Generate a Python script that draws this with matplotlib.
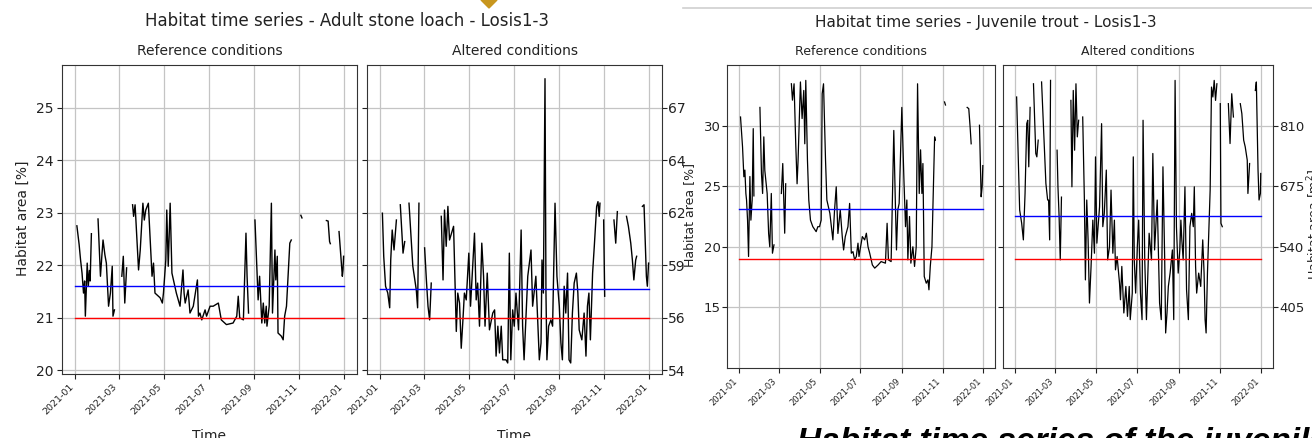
import numpy as np
import matplotlib
matplotlib.use('Agg')
import matplotlib.pyplot as plt
import matplotlib.dates as mdates
from matplotlib.lines import Line2D
from matplotlib.patches import Polygon

W, H = 1312, 438
nan = np.nan

# ---------------- data (day of year 2021, habitat area %) ----------------
ref1_day = [2, 5, 7, 9, 11, 12.5, 13.5, 16, 17.5, 19, 20, 21.7, 25,
            30.7, 34, 36, 37.5, 40, 42, 45, 47.5, 50, 51, 53, 58,
            63, 65, 67, 69.5, 73,
            77.6, 79, 81, 85.7, 88, 91.6, 93.5, 95.5, 99, 104, 106, 108, 115, 118, 119.5,
            122.7, 124, 126, 128.6, 131, 137, 142, 146, 147.5, 149, 153, 155.5, 160,
            165.6, 167, 169, 171.5, 176, 178, 182.8, 187, 194, 198, 205, 214, 219, 221,
            223, 228, 231.5, 233, 235, 239,
            243.7, 248, 250, 253, 255, 257, 259, 260, 263, 266, 267.5, 270.8, 272, 274,
            275, 279.5, 282, 284, 286.5, 291, 293, 300,
            306, 307.5, 320,
            340.7, 343, 345, 346, 350,
            357.8, 362.3, 363.2, 364]
ref1_val = [22.75, 22.4, 22.1, 21.85, 21.47, 21.7, 21.03, 22.04, 21.6, 21.9, 21.7, 22.6, nan,
            22.88, 21.79, 22.2, 22.48, 22.2, 22.04, 21.22, 21.47, 21.98, 21.03, 21.15, nan,
            21.79, 22.17, 21.28, 21.95, nan,
            23.15, 22.93, 23.15, 21.91, 22.29, 23.18, 22.86, 23.05, 23.18, 21.79, 22.04, 21.47, 21.38, 21.28, 21.47,
            22.1, 23.05, 21.98, 23.18, 21.85, 21.47, 21.22, 21.91, 21.47, 21.28, 21.53, 21.09, 21.22,
            21.72, 21.03, 21.09, 20.96, 21.15, 21.03, 21.22, 21.22, 21.28, 20.96, 20.87, 20.9, 21.03, 21.41,
            21.0, 20.96, 22.61, 21.79, 21.09, nan,
            22.86, 21.34, 21.79, 20.9, 21.28, 20.9, 21.22, 20.84, 21.22, 23.18, 21.09, 22.29, 21.72, 22.17,
            20.71, 20.65, 20.58, 21.03, 21.22, 22.42, 22.48, nan,
            22.95, 22.9, nan,
            22.85, 22.84, 22.45, 22.41, nan,
            22.64, 21.79, 21.91, 22.17]

alt1_day = [2.7, 4.5, 7, 10, 12.6, 14, 16, 18.5, 21.7, 24,
            27, 30.7, 33, 36,
            38.8, 44, 48.7, 50.5, 52.3, 56,
            60, 62.4, 64.6, 66.8, 69, 75,
            82.6, 85, 87, 89.3, 91.6, 93.8,
            99.3, 103, 105, 107.4, 109.7, 112, 114, 116.5, 120, 122.3, 127.7, 130, 132, 134.5,
            137.6, 140, 142, 145, 148, 152.5, 155, 157, 159.4, 161.6, 164, 166, 170.5, 172.8,
            175, 177, 179.5, 181.7, 184, 187.5, 191, 193, 195, 198, 200, 204.4, 206.6, 211,
            215.7, 218, 219.3, 221.2, 223.4, 224.7, 226, 228.3, 231.4, 233.7, 237, 239.6,
            242.8, 245, 247, 249.4, 251.6, 254, 256, 258.3, 260.6, 263, 266, 268, 269.8,
            273.4, 276.5, 279, 281, 283, 285, 288, 290.3, 293.5, 295.3, 297, 298, 300,
            303, 304.4, 310,
            317, 319.4, 321.6, 328,
            334, 336.6, 339.8, 342, 344, 346.5, 347.8, 351,
            355.6, 357.8, 361, 362.3, 364]
alt1_val = [22.99, 22.17, 21.6, 21.47, 21.19, 22.1, 22.67, 22.29, 22.86, nan,
            23.15, 22.23, 22.45, nan,
            23.18, 21.98, 21.53, 21.19, 23.18, nan,
            22.33, 21.72, 21.22, 20.96, 21.66, nan,
            22.93, 21.72, 23.05, 22.36, 23.12, 22.48,
            22.74, 20.74, 21.47, 21.28, 20.42, 20.96, 21.47, 21.34, 22.23, 21.22, 22.61, 21.34, 21.66, 20.84,
            22.42, 21.79, 20.84, 21.85, 20.77, 21.09, 21.15, 20.27, 20.84, 20.33, 20.84, 20.2, 20.2, 20.14,
            22.23, 20.2, 21.15, 20.84, 21.47, 20.77, 22.67, 20.84, 20.2, 21.15, 21.79, 22.29, 21.22, 21.79,
            20.2, 20.52, 22.1, 21.47, 25.55, 21.47, 20.2, 20.84, 20.96, 20.84, 23.18, 21.79,
            21.22, 20.52, 20.2, 21.6, 21.09, 21.85, 20.2, 20.14, 21.09, 21.66, 21.85, 21.47, 20.77,
            20.58, 21.09, 20.27, 21.22, 21.47, 20.58, 21.85, 22.36, 23.12, 23.21, 22.93, 23.18, nan,
            22.86, 21.41, nan,
            22.86, 22.42, 23.02, nan,
            22.93, 22.74, 22.42, 22.1, 21.72, 22.1, 22.17, nan,
            23.12, 23.15, 21.79, 21.6, 22.04]

ref2_day = [2, 5, 7, 8.5, 10, 11, 12.5, 14, 16, 17.5, 19.4, 21, 22, 26,
            31, 33.3, 35, 36.8, 38.3, 41.8, 44, 45.7, 48, 49.7, 52, 57,
            63, 65.1, 68, 69.5, 73,
            78, 79.6, 82, 84.5, 86.5, 88, 91.5, 94, 96.5, 98, 99.5, 102, 104, 106.5, 110,
            115, 117.5, 120, 122.5, 124, 126, 129, 131, 135.5, 140, 142.5, 145, 147.5, 151,
            154, 156, 158.5, 162.5, 165, 167.5, 170, 172.5, 175, 177.5, 179, 181, 184, 187.5,
            190, 192.5, 195, 199, 202.5, 207.5, 212, 218.5, 221, 223, 227, 231, 233, 235,
            237, 239, 243, 246, 248.5, 250.5, 252, 254.5, 256.5, 259.5, 262, 264.5, 266.5,
            269, 271, 273, 274.5, 276.5, 279.5, 282, 283.5, 285.5, 288, 292, 293, 300,
            306.8, 308.2, 320,
            340.6, 343, 345, 346.6, 352,
            359, 361.5, 363, 364]
ref2_val = [30.71, 28.25, 25.78, 26.33, 24.4, 23.86, 22.2, 19.2, 25.8, 22.2, 23.86, 29.75, 24.2, nan,
            31.5, 26.05, 24.4, 29.07, 26.3, 24.4, 21.1, 20.0, 24.4, 19.47, 20.16, nan,
            24.4, 26.87, 21.12, 25.2, nan,
            33.45, 32.1, 33.45, 28.5, 25.2, 27.15, 33.6, 30.58, 32.9, 28.5, 33.73, 27.15, 23.86, 22.2, 21.66,
            21.25, 21.66, 21.66, 22.2, 32.63, 33.45, 27.15, 23.86, 22.76, 20.57, 23.04, 24.95, 21.1, 23.04,
            20.84, 19.74, 20.84, 21.66, 23.58, 19.47, 19.6, 18.92, 19.2, 20.3, 19.2, 19.88, 20.84, 20.57,
            21.12, 20.0, 19.47, 18.5, 18.24, 18.5, 18.78, 18.65, 21.94, 18.92, 18.78, 29.6, 24.4, 19.74,
            23.04, 23.58, 31.5, 25.78, 21.66, 23.86, 18.92, 22.5, 18.65, 20.0, 18.38, 20.0, 33.45,
            24.4, 28.0, 24.4, 26.87, 17.55, 17.0, 17.27, 16.45, 18.38, 20.0, 29.07, 28.8, nan,
            31.95, 31.7, nan,
            31.5, 31.4, 29.9, 28.5, nan,
            30.03, 24.13, 24.95, 26.7]

alt2_day = [2, 4.5, 6.5, 9.5, 12, 14.5, 17, 18.5, 20, 22, 25,
            27, 30.4, 32, 34, 36,
            39, 43, 45.4, 48, 49.4, 51, 52.3, 57,
            62, 63.3, 65, 66.7, 68.5, 75,
            82.5, 84, 86, 88, 90, 92, 94, 97,
            100, 102.5, 104, 106, 108, 110, 112.4, 115, 117.4, 119, 121, 125, 128, 129.8,
            132, 135, 137, 139.7, 142, 144.7, 147, 148.6, 151, 154.6, 156, 158, 161, 164,
            166.4, 169, 170.5, 173.5, 175, 176.5, 178.5, 181, 183, 185.6, 188, 189.5, 192,
            194.5, 198.5, 202, 204, 206.6, 210.5, 214, 216.5, 219, 221.6, 223, 225, 227,
            229.6, 233, 235, 237, 239, 241.6, 244, 245.6, 247, 249, 251.6, 254, 256.7, 259,
            261.6, 264, 265.5, 267.4, 269, 272, 275, 278, 280, 281.5, 283, 285, 287, 289,
            291, 293, 295, 297, 299, 301,
            304, 305, 307, 311,
            316, 318.5, 321, 323.5, 328,
            333.7, 336, 338.7, 341, 344, 345, 347.5, 351,
            356, 357.5, 360, 361.5, 363.5, 364]
alt2_val = [32.36, 27.15, 23.04, 21.94, 20.57, 24.4, 30.16, 30.44, 26.6, 31.5, nan,
            33.45, 27.7, 27.42, 28.8, nan,
            33.6, 28.25, 25.23, 23.86, 23.86, 20.57, 33.73, nan,
            27.97, 24.95, 22.49, 18.92, 24.1, nan,
            32.08, 24.95, 32.9, 27.97, 33.45, 29.07, 30.44, nan,
            30.71, 23.86, 17.27, 23.86, 20.57, 15.36, 18.38, 22.2, 19.47, 27.42, 20.3, 23.3, 30.16, 21.66,
            22.76, 26.33, 18.92, 20.0, 24.68, 19.47, 22.2, 18.1, 19.2, 17.0, 15.63, 18.38, 14.54, 16.73,
            14.26, 16.73, 13.99, 16.18, 27.42, 18.92, 16.18, 20.0, 22.2, 16.18, 13.99, 30.44, 18.92,
            13.99, 21.12, 18.92, 27.7, 19.74, 23.86, 15.36, 13.99, 26.6, 18.92, 12.89, 14.54, 16.73,
            17.83, 19.74, 13.99, 33.73, 21.66, 17.83, 19.74, 22.2, 20.57, 18.92, 24.95, 16.45, 13.99, 21.66,
            22.76, 21.66, 24.95, 18.38, 16.18, 17.83, 16.73, 20.57, 17.83, 13.99, 12.89, 17.83, 21.12, 24.68,
            33.18, 32.36, 33.73, 32.08, 33.45, nan,
            31.81, 21.94, 21.66, nan,
            31.81, 28.52, 32.63, 30.71, nan,
            31.81, 30.99, 28.8, 28.25, 27.15, 24.4, 26.87, nan,
            32.9, 33.6, 26.33, 23.86, 24.4, 26.05]

ref1_blue, ref1_red = 21.6, 21.0
alt1_blue, alt1_red = 21.55, 21.0
ref2_blue, ref2_red = 23.14, 19.0
alt2_blue, alt2_red = 22.52, 19.0

fig1_yticks = [20, 21, 22, 23, 24, 25]
fig1_right_labels = ['54', '56', '59', '62', '64', '67']
fig2_yticks = [15, 20, 25, 30]
fig2_right_labels = ['405', '540', '675', '810']
tick_months = [1, 3, 5, 7, 9, 11]

# ---------------- drawing ----------------
fig = plt.figure(figsize=(W / 100, H / 100), dpi=100)


def rect(x0, y0, x1, y1):
    return [x0 / W, 1 - y1 / H, (x1 - x0) / W, (y1 - y0) / H]


def to_dates(days):
    base = np.datetime64('2021-01-01T00:00')
    return base + np.round(np.asarray(days, dtype=float) * 1440).astype('timedelta64[m]')


def panel(ax, days, vals, blue, red, ylim, yticks, xfs, yfs, lw,
          title, tfs, ypad, rlabels=None):
    ax.plot(to_dates(days), vals, color='black', lw=lw, zorder=3)
    span = to_dates([0, 364])
    ax.plot(span, [blue, blue], color='blue', lw=1.0, zorder=4)
    ax.plot(span, [red, red], color='red', lw=1.0, zorder=4)
    ax.set_ylim(*ylim)
    ax.set_yticks(yticks)
    ax.xaxis.set_major_locator(mdates.MonthLocator(bymonth=tick_months))
    ax.xaxis.set_major_formatter(mdates.DateFormatter('%Y-%m'))
    ax.grid(True, color='#c4c4c4', lw=0.9)
    ax.set_axisbelow(True)
    ax.tick_params(axis='x', labelsize=xfs, colors='#222222', length=3.5, pad=2.5)
    ax.tick_params(axis='y', labelsize=yfs, colors='#222222', length=3.5, pad=ypad)
    for lbl in ax.get_xticklabels():
        lbl.set_rotation(45)
        lbl.set_ha('right')
    for s in ax.spines.values():
        s.set_color('#333333')
    if rlabels is not None:
        ax.yaxis.set_ticks_position('both')
        ax.tick_params(axis='y', labelleft=False, labelright=True)
        ax.set_yticklabels(rlabels)
    else:
        ax.set_yticklabels([str(t) for t in yticks])
    ax.set_title(title, fontsize=tfs, pad=7, color='#222222')


# figure 1: adult stone loach
a1 = fig.add_axes(rect(62, 65, 357, 374))
a2 = fig.add_axes(rect(367, 65, 662, 374))
panel(a1, ref1_day, ref1_val, ref1_blue, ref1_red, (19.93, 25.81), fig1_yticks,
      6.8, 10, 1.0, 'Reference conditions', 10, 2.5)
panel(a2, alt1_day, alt1_val, alt1_blue, alt1_red, (19.93, 25.81), fig1_yticks,
      6.8, 10, 1.0, 'Altered conditions', 10, 1.0, rlabels=fig1_right_labels)

# figure 2: juvenile trout
b1 = fig.add_axes(rect(727, 65, 995, 368))
b2 = fig.add_axes(rect(1003, 65, 1273, 368))
panel(b1, ref2_day, ref2_val, ref2_blue, ref2_red, (10.0, 35.0), fig2_yticks,
      6.0, 9.5, 0.9, 'Reference conditions', 9, 0.8)
panel(b2, alt2_day, alt2_val, alt2_blue, alt2_red, (10.0, 35.0), fig2_yticks,
      6.0, 9.5, 0.9, 'Altered conditions', 9, 0.8, rlabels=fig2_right_labels)

# titles and labels
fig.text(347 / W, 1 - 21 / H, 'Habitat time series - Adult stone loach - Losis1-3',
         ha='center', va='center', fontsize=12, color='#222222')
fig.text(986 / W, 1 - 23 / H, 'Habitat time series - Juvenile trout - Losis1-3',
         ha='center', va='center', fontsize=11, color='#222222')
fig.text(23 / W, 1 - 218 / H, 'Habitat area [%]', rotation=90,
         ha='center', va='center', fontsize=10, color='#222222')
fig.text(690 / W, 1 - 215 / H, 'Habitat area [%]', rotation=90,
         ha='center', va='center', fontsize=9, color='#222222')
fig.text(1314 / W, 1 - 225 / H, 'Habitat area [m$^2$]', rotation=90,
         ha='center', va='center', fontsize=9, color='#222222')
fig.text(209 / W, 1 - 429 / H, 'Time', ha='center', va='top', fontsize=10, color='#222222')
fig.text(514 / W, 1 - 429 / H, 'Time', ha='center', va='top', fontsize=10, color='#222222')

# slide decorations
fig.add_artist(Line2D([683 / W, 1.0], [1 - 8 / H, 1 - 8 / H], color='#cfcfcf', lw=1.2))
fig.add_artist(Polygon([[481 / W, 1.0], [497 / W, 1.0], [489 / W, 1 - 8 / H]],
                       closed=True, color='#c8961e', transform=fig.transFigure))
fig.text(797 / W, 1 - 427 / H, 'Habitat time series of the juvenile trout',
         ha='left', va='top', fontsize=24, fontweight='bold', fontstyle='italic',
         family=['Liberation Sans', 'DejaVu Sans'], color='black')

fig.savefig('out.png', dpi=100)
